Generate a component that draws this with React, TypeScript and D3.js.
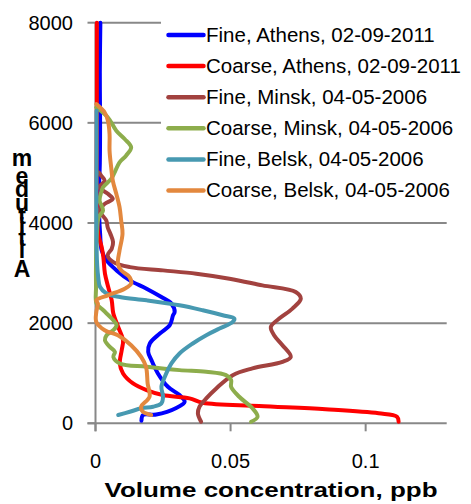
import React from "react";
import * as d3 from "d3";

// [volume concentration (ppb), altitude (m)]
const fineAthens: [number, number][] = [
  [0.0170, 50], [0.0176, 165], [0.0225, 175], [0.0299, 305], [0.0330, 430], [0.0311, 564],
  [0.0268, 729], [0.0231, 996], [0.0207, 1261], [0.0195, 1426], [0.0201, 1594], [0.0238, 1793],
  [0.0275, 1959], [0.0287, 2158], [0.0293, 2223], [0.0281, 2390], [0.0244, 2522], [0.0189, 2689],
  [0.0127, 2855], [0.0078, 3054], [0.0041, 3253], [0.0023, 3452], [0.0017, 3791], [0.0012, 4448],
  [0.0016, 5200], [0.0017, 6000], [0.0016, 7000], [0.0018, 8000],
];
const coarseAthens: [number, number][] = [
  [0.1122, 30], [0.1116, 131], [0.1048, 199], [0.0852, 279], [0.0606, 345], [0.0397, 410],
  [0.0348, 498], [0.0249, 564], [0.0189, 663], [0.0139, 797], [0.0102, 996], [0.0090, 1195],
  [0.0097, 1460], [0.0102, 1659], [0.0084, 1924], [0.0066, 2191], [0.0060, 2456], [0.0047, 2721],
  [0.0035, 2988], [0.0029, 3319], [0.0023, 3518], [0.0010, 3785], [0.0005, 4448], [0.0005, 6000],
  [0.0005, 8000],
];
const fineMinsk: [number, number][] = [
  [0.0391, 30], [0.0379, 199], [0.0385, 331], [0.0410, 498], [0.0447, 697], [0.0508, 962],
  [0.0581, 1096], [0.0692, 1227], [0.0723, 1327], [0.0692, 1560], [0.0661, 1759], [0.0649, 1924],
  [0.0680, 2092], [0.0729, 2291], [0.0760, 2490], [0.0741, 2622], [0.0618, 2755], [0.0496, 2888],
  [0.0373, 2988], [0.0250, 3054], [0.0127, 3119], [0.0066, 3219], [0.0045, 3353], [0.0060, 3486],
  [0.0065, 3617], [0.0055, 3785], [0.0045, 3916], [0.0040, 4050], [0.0015, 4249], [0.0034, 4382],
  [0.0064, 4482], [0.0046, 4582], [0.0015, 4713], [0.0034, 4847], [0.0021, 4946], [0.0013, 5006],
];
const coarseMinsk: [number, number][] = [
  [0.0576, 30], [0.0600, 131], [0.0581, 299], [0.0532, 530], [0.0502, 729], [0.0502, 863],
  [0.0483, 962], [0.0410, 1028], [0.0311, 1062], [0.0189, 1128], [0.0090, 1195], [0.0066, 1327],
  [0.0072, 1426], [0.0053, 1526], [0.0035, 1659], [0.0041, 1759], [0.0066, 1859], [0.0078, 1958],
  [0.0060, 2092], [0.0029, 2257], [0.0004, 2390], [0.0002, 2721], [0.0002, 3253], [0.0004, 3651],
  [0.0009, 4050], [0.0015, 4149], [0.0028, 4249], [0.0015, 4448], [0.0021, 4613], [0.0028, 4713],
  [0.0058, 4880], [0.0071, 5012], [0.0089, 5211], [0.0113, 5345], [0.0132, 5510], [0.0108, 5677],
  [0.0077, 5843], [0.0046, 6107], [0.0003, 6307],
];
const fineBelsk: [number, number][] = [
  [0.0084, 165], [0.0127, 231], [0.0170, 299], [0.0213, 331], [0.0244, 398], [0.0250, 530],
  [0.0244, 729], [0.0262, 996], [0.0281, 1195], [0.0311, 1394], [0.0360, 1594], [0.0410, 1759],
  [0.0459, 1892], [0.0508, 2024], [0.0514, 2092], [0.0471, 2158], [0.0397, 2257], [0.0311, 2357],
  [0.0189, 2456], [0.0090, 2522], [0.0041, 2590], [0.0017, 2721], [0.0010, 2920], [0.0004, 3452],
  [0.0004, 5444], [0.0004, 6240],
];
const coarseBelsk: [number, number][] = [
  [0.0206, 165], [0.0175, 231], [0.0169, 331], [0.0200, 530], [0.0193, 797], [0.0187, 1128],
  [0.0169, 1327], [0.0132, 1560], [0.0083, 1759], [0.0034, 1859], [0.0003, 2024], [0.0003, 2223],
  [0.0009, 2390], [0.0003, 2456], [0.0046, 2556], [0.0108, 2689], [0.0132, 2789], [0.0126, 2920],
  [0.0095, 3054], [0.0083, 3187], [0.0089, 3452], [0.0100, 3785], [0.0095, 4050], [0.0089, 4315],
  [0.0077, 4582], [0.0064, 4847], [0.0058, 5112], [0.0052, 5444], [0.0052, 5777], [0.0046, 6042],
  [0.0034, 6207], [0.0003, 6374],
];

const seriesNames = [
  "Fine, Athens, 02-09-2011",
  "Coarse, Athens, 02-09-2011",
  "Fine, Minsk, 04-05-2006",
  "Coarse, Minsk, 04-05-2006",
  "Fine, Belsk, 04-05-2006",
  "Coarse, Belsk, 04-05-2006",
];
const seriesData = [fineAthens, coarseAthens, fineMinsk, coarseMinsk, fineBelsk, coarseBelsk];
const seriesColors = ["#0000FF", "#FF0000", "#A2423F", "#8DAD4C", "#4799B1", "#E3883E"];

const xTicks = [0, 0.05, 0.1];
const xTickLabels = ["0", "0.05", "0.1"];
const yTicks = [0, 2000, 4000, 6000, 8000];
const yTitle = "Altitude, m";
const xTitle = "Volume concentration, ppb";

const FONT = "'Liberation Sans', Arial, sans-serif";

export default function App() {
  const W = 471;
  const H = 504;
  const x = d3.scaleLinear().domain([0, 0.13]).range([95.5, 446.7]);
  const y = d3.scaleLinear().domain([0, 8000]).range([423.3, 22.7]);
  const line = d3
    .line<[number, number]>()
    .x((d) => x(d[0]))
    .y((d) => y(d[1]))
    .curve(d3.curveCatmullRom.alpha(0.5));
  const grid = "#888888";

  // stacked vertical title letters, from the bottom (A) to the top (m)
  const titleChars = yTitle.split("").filter((c) => c !== " " && c !== ",");
  const titleYs = [277, 258, 246, 235, 224, 211, 197, 184, 166];

  return (
    <svg width={W} height={H} style={{ position: "absolute", left: 0, top: 0 }}>
      <rect x={0} y={0} width={W} height={H} fill="#fff" />
      {/* gridlines */}
      {yTicks.filter((t) => t > 0).map((t) => (
        <line key={t} x1={x(0)} x2={x(0.13)} y1={y(t)} y2={y(t)} stroke={grid} strokeWidth={2} />
      ))}
      {/* axes */}
      <line x1={x(0)} x2={x(0)} y1={y(8000)} y2={y(0) + 8} stroke={grid} strokeWidth={2} />
      <line x1={x(0) - 8} x2={x(0.13)} y1={y(0)} y2={y(0)} stroke={grid} strokeWidth={2} />
      {yTicks.map((t) => (
        <line key={"yt" + t} x1={x(0) - 8} x2={x(0)} y1={y(t)} y2={y(t)} stroke={grid} strokeWidth={2} />
      ))}
      {xTicks.map((t) => (
        <line key={"xt" + t} x1={x(t)} x2={x(t)} y1={y(0)} y2={y(0) + 8} stroke={grid} strokeWidth={2} />
      ))}
      {/* tick labels */}
      {yTicks.map((t) => (
        <text key={"yl" + t} x={73} y={y(t) + 7} textAnchor="end" fontFamily={FONT} fontSize={20} fill="#000">
          {String(t)}
        </text>
      ))}
      {xTicks.map((t, i) => (
        <text key={"xl" + t} x={x(t)} y={468} textAnchor="middle" fontFamily={FONT} fontSize={20} fill="#000">
          {xTickLabels[i]}
        </text>
      ))}
      {/* series */}
      {seriesData.map((d, i) => (
        <path
          key={seriesNames[i]}
          d={line(d) || ""}
          fill="none"
          stroke={seriesColors[i]}
          strokeWidth={4}
          strokeLinejoin="round"
          strokeLinecap="round"
        />
      ))}
      {/* legend */}
      <rect x={161} y={10} width={310} height={202} fill="#fff" />
      {seriesNames.map((n, i) => {
        const ly = 35 + i * 31.1;
        return (
          <g key={"lg" + i}>
            <line x1={168.5} x2={203.5} y1={ly} y2={ly} stroke={seriesColors[i]} strokeWidth={4.5} strokeLinecap="round" />
            <text x={206} y={ly + 6.5} fontFamily={FONT} fontSize={20.5} fill="#000">
              {n}
            </text>
          </g>
        );
      })}
      {/* axis titles */}
      {titleChars.map((c, i) => (
        <text key={"tc" + i} x={22} y={titleYs[i]} textAnchor="middle" fontFamily={FONT} fontSize={23} fontWeight="bold" fill="#000">
          {c}
        </text>
      ))}
      <text x={271} y={497} textAnchor="middle" fontFamily={FONT} fontSize={21} fontWeight="bold" fill="#000" textLength={333} lengthAdjust="spacingAndGlyphs">
        {xTitle}
      </text>
    </svg>
  );
}
